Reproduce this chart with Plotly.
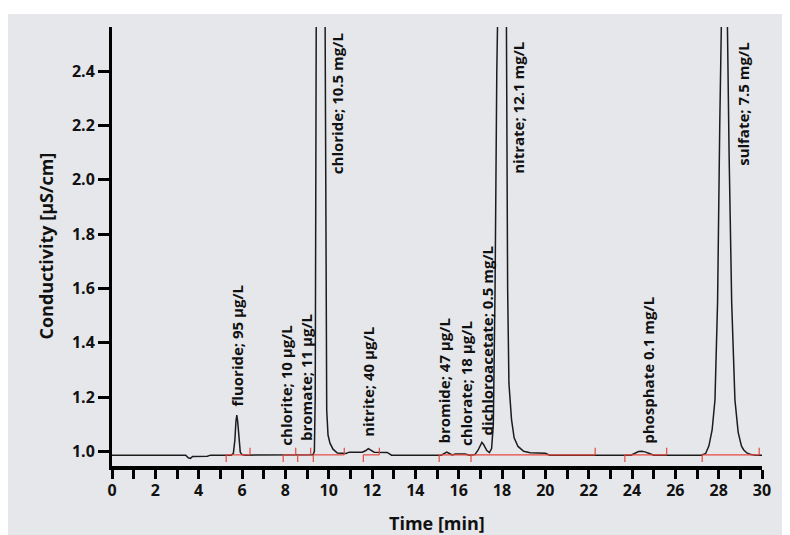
import plotly.graph_objects as go

# ---------------- data ----------------
time_min = [
    0.00, 3.40, 3.52, 3.62, 3.72, 4.40, 4.55,
    5.50, 5.60, 5.67, 5.72, 5.76, 5.80, 5.86, 5.92, 6.00, 6.15,
    9.28, 9.34, 9.38, 9.41, 9.45, 9.62, 9.80, 9.84, 9.87, 9.91, 9.97, 10.06, 10.20, 10.40, 10.80,
    10.95, 11.55, 11.70, 11.83, 11.96, 12.10, 12.70, 12.90,
    15.20, 15.35, 15.45, 15.55, 15.70, 15.85, 16.05, 16.30, 16.50,
    16.75, 16.90, 17.00, 17.07, 17.15, 17.30, 17.42, 17.52, 17.60, 17.68, 17.76, 17.82,
    18.00, 18.18, 18.22, 18.26, 18.32, 18.44, 18.56, 18.74, 19.00, 19.30, 20.00, 20.20,
    23.95, 24.15, 24.30, 24.45, 24.60, 24.80, 25.00,
    27.20, 27.40, 27.55, 27.70, 27.83, 27.95, 28.05, 28.10, 28.15, 28.25, 28.35, 28.40,
    28.48, 28.60, 28.75, 28.90, 29.05, 29.15, 29.30, 29.50, 29.70, 30.00,
]
conductivity = [
    0.986, 0.986, 0.976, 0.974, 0.981, 0.982, 0.986,
    0.986, 0.992, 1.040, 1.110, 1.133, 1.110, 1.040, 0.997, 0.988, 0.986,
    0.987, 1.000, 1.200, 2.500, 3.300, 3.800, 3.300, 2.500, 1.600, 1.150, 1.060, 1.030, 1.008, 0.994, 0.992,
    0.997, 0.997, 1.002, 1.010, 1.003, 0.997, 0.996, 0.986,
    0.986, 0.993, 0.997, 0.993, 0.987, 0.990, 0.991, 0.990, 0.986,
    0.988, 1.005, 1.025, 1.033, 1.025, 1.003, 0.995, 1.010, 1.100, 1.600, 2.400, 3.000,
    3.600, 3.000, 2.400, 1.600, 1.250, 1.117, 1.050, 1.018, 1.000, 0.995, 0.993, 0.986,
    0.986, 0.994, 0.999, 1.000, 0.998, 0.992, 0.986,
    0.986, 0.992, 1.020, 1.080, 1.190, 1.550, 2.200, 2.560, 2.900, 3.200, 2.900, 2.560,
    2.100, 1.550, 1.190, 1.070, 1.020, 1.006, 0.994, 0.988, 0.986, 0.986,
]

# integration baseline segments (red) and their start / end markers
seg_start = [5.27, 7.90, 8.57, 9.29, 11.60, 15.10, 16.57, 23.67, 27.24]
seg_end = [6.37, 8.48, 9.17, 10.72, 12.34, 16.57, 22.30, 25.60, 29.87]
marker_down = [5.27, 7.90, 8.57, 9.29, 11.60, 15.10, 16.57, 23.67, 27.24]
marker_up = [6.37, 8.48, 9.17, 10.72, 12.34, 22.30, 25.60, 29.87]
baseline_level = 0.987

# peak labels
peak_names = [
    "fluoride; 95 µg/L", "chlorite; 10 µg/L", "bromate; 11 µg/L", "chloride; 10.5 mg/L",
    "nitrite; 40 µg/L", "bromide; 47 µg/L", "chlorate; 18 µg/L", "dichloroacetate; 0.5 mg/L",
    "nitrate; 12.1 mg/L", "phosphate 0.1 mg/L", "sulfate; 7.5 mg/L",
]
label_time = [5.75, 8.03, 8.95, 10.38, 11.82, 15.28, 16.34, 17.30, 18.74, 24.73, 29.12]
label_base = [1.160, 1.017, 1.036, 2.018, 1.050, 1.025, 1.014, 1.054, 2.018, 1.025, 2.047]

x_ticks_major = list(range(0, 31, 2))
y_ticks = [1.0, 1.2, 1.4, 1.6, 1.8, 2.0, 2.2, 2.4]

# ---------------- figure ----------------
# the page body adds an 8 px margin, so the figure itself is 8 px smaller
FONT = "Open Sans"
GREY = "#e5e7ea"
W, H = 782, 527
L, R, T, B = 104, 28, 19, 69
pw, ph = W - L - R, H - T - B

fig = go.Figure()
fig.add_trace(go.Scatter(
    x=time_min, y=conductivity, mode="lines",
    line=dict(color="#1c1c1c", width=1.5), hoverinfo="skip", showlegend=False,
))

tick_len = 0.026
rx, ry = [], []
for s, e in zip(seg_start, seg_end):
    rx += [s, e, None]
    ry += [baseline_level, baseline_level, None]
for m in marker_down:
    rx += [m, m, None]
    ry += [baseline_level, baseline_level - tick_len, None]
for m in marker_up:
    rx += [m, m, None]
    ry += [baseline_level, baseline_level + tick_len, None]
fig.add_trace(go.Scatter(
    x=rx, y=ry, mode="lines",
    line=dict(color="#e8473f", width=1.2), hoverinfo="skip", showlegend=False,
))

for name, xt, yb in zip(peak_names, label_time, label_base):
    fig.add_annotation(
        x=xt, y=yb, text=name, textangle=-90, showarrow=False,
        xanchor="center", yanchor="bottom", borderpad=0,
        font=dict(family=FONT, size=15, color="#111", weight="bold"),
    )

# axis titles (page positions shifted by the 8 px body margin)
fig.add_annotation(
    xref="paper", yref="paper", x=(45 - 8 - L) / pw, y=0.5, text="Conductivity [µS/cm]",
    textangle=-90, showarrow=False, xanchor="center", yanchor="middle",
    font=dict(family=FONT, size=18, color="#111", weight="bold"),
)
fig.add_annotation(
    xref="paper", yref="paper", x=(437 - 8 - L) / pw, y=-(523 - 8 - (T + ph)) / ph,
    text="Time [min]", showarrow=False, xanchor="center", yanchor="middle",
    font=dict(family=FONT, size=18, color="#111", weight="bold"),
)

# white strip above the grey panel
fig.add_shape(type="rect", xref="paper", yref="paper", layer="below",
              x0=-1, x1=2, y0=1 + (T - 6) / ph, y1=1.5, fillcolor="white", line_width=0)

fig.update_layout(
    width=W, height=H,
    margin=dict(l=L, r=R, t=T, b=B),
    paper_bgcolor=GREY, plot_bgcolor=GREY,
    showlegend=False,
    xaxis=dict(
        range=[0, 30], tickvals=x_ticks_major, ticks="outside", ticklen=9, tickwidth=3,
        tickcolor="black", showline=True, linewidth=4, linecolor="black",
        showgrid=False, zeroline=False, ticklabelstandoff=-2,
        minor=dict(dtick=1, ticks="outside", ticklen=9, tickwidth=3, tickcolor="black", showgrid=False),
        tickfont=dict(family=FONT, size=16, color="#111", weight="bold"),
    ),
    yaxis=dict(
        range=[0.946, 2.562], tickvals=y_ticks, tickformat=".1f", ticks="outside",
        ticklen=11, tickwidth=3, tickcolor="black", showline=True, linewidth=3,
        linecolor="black", showgrid=False, zeroline=False,
        tickfont=dict(family=FONT, size=16, color="#111", weight="bold"),
    ),
)

fig.write_html("out.html")
